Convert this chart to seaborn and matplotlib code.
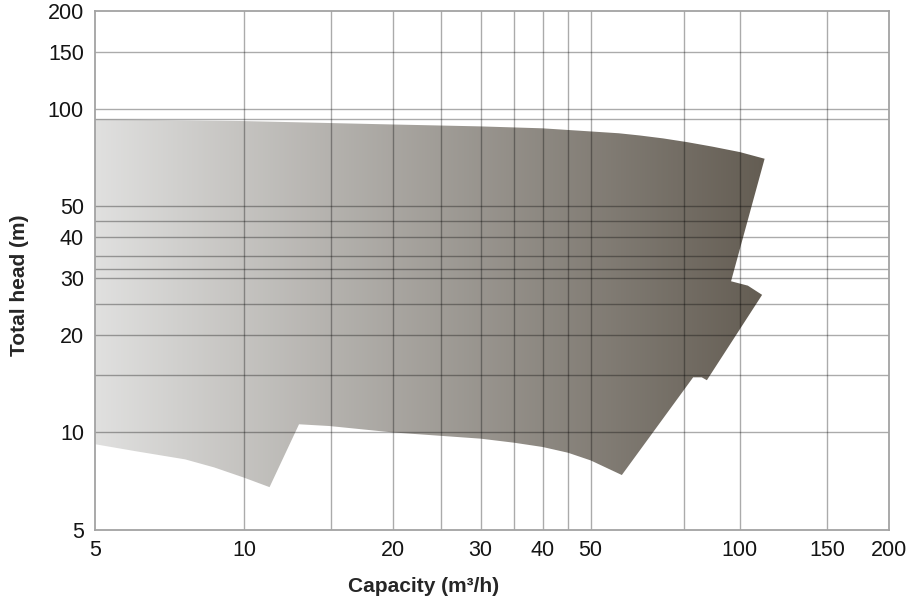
import numpy as np
import matplotlib
matplotlib.use("Agg")
import matplotlib.pyplot as plt
from matplotlib.colors import LinearSegmentedColormap
from matplotlib.ticker import NullLocator
import seaborn as sns

# Pump operating range outline, clockwise from top-left
range_q = [5, 10, 20, 30, 40, 50, 57, 62.8, 70, 78.2, 88, 100, 112.2,
           96.0, 103.8, 110.9, 85.8, 83.8, 80.5, 57.8,
           50, 45, 40, 35, 30, 20, 14.85, 12.9,
           11.25, 10, 8.7, 7.6, 6.02, 5]
range_h = [92.6, 91.5, 89.3, 88.1, 86.9, 85.0, 83.9, 82.6, 80.9, 78.8, 76.3, 73.4, 70.0,
           29.3, 28.4, 26.6, 14.5, 14.8, 14.8, 7.39,
           8.2, 8.66, 9.02, 9.30, 9.57, 10.0, 10.47, 10.6,
           6.78, 7.25, 7.8, 8.26, 8.76, 9.20]

# grid lines and tick labels
grid_q = [10, 15, 20, 25, 30, 35, 40, 45, 50, 77, 100, 150]
grid_h = [10, 15, 20, 25, 30, 32, 35, 40, 45, 50, 93, 100, 150]
ticks_q = [5, 10, 20, 30, 40, 50, 100, 150, 200]
ticks_h = [5, 10, 20, 30, 40, 50, 100, 150, 200]

sns.set_theme(style="white")
plt.rcParams['font.family'] = ['Liberation Sans', 'DejaVu Sans']

fig = plt.figure(figsize=(9.17, 6.05), dpi=100)
ax = fig.add_axes([0.1036, 0.124, 0.8659, 0.8577])
ax.set_xscale('log')
ax.set_yscale('log')

# shape used as clip path for the gradient
patch = ax.fill(range_q, range_h, facecolor='none', edgecolor='none', zorder=1)[0]

gradient_cmap = LinearSegmentedColormap.from_list(
    'range', [(224/255, 224/255, 223/255), (100/255, 93/255, 83/255)])
xmin, xmax = 5, 200
right_frac = np.log(max(range_q) / xmin) / np.log(xmax / xmin)
grad = np.linspace(0, 1, 512).reshape(1, -1)
im = ax.imshow(grad, cmap=gradient_cmap, aspect='auto', extent=[0, right_frac, 0, 1],
               transform=ax.transAxes, zorder=1, interpolation='bilinear')
im.set_clip_path(patch)

for q in grid_q:
    ax.axvline(q, color='black', alpha=0.33, lw=1.0, zorder=3)
for h in grid_h:
    ax.axhline(h, color='black', alpha=0.33, lw=1.0, zorder=3)

ax.set_xlim(xmin, xmax)
ax.set_ylim(5, 200)
ax.set_xticks(ticks_q)
ax.set_xticklabels([str(t) for t in ticks_q])
ax.set_yticks(ticks_h)
ax.set_yticklabels([str(t) for t in ticks_h])
ax.xaxis.set_minor_locator(NullLocator())
ax.yaxis.set_minor_locator(NullLocator())
ax.tick_params(axis='both', length=0, labelsize=15.5, colors='#141414')
ax.tick_params(axis='x', pad=7)
ax.tick_params(axis='y', pad=8)

for s in ax.spines.values():
    s.set_color('#a3a3a3')
    s.set_linewidth(1.3)
    s.set_zorder(4)

ax.set_xlabel('Capacity (m³/h)', fontsize=15, fontweight='bold', color='#262626')
ax.set_ylabel('Total head (m)', fontsize=15, fontweight='bold', color='#262626')
ax.xaxis.set_label_coords(0.414, -0.09)
ax.yaxis.set_label_coords(-0.083, 0.472)

fig.savefig('out.png', dpi=100)
